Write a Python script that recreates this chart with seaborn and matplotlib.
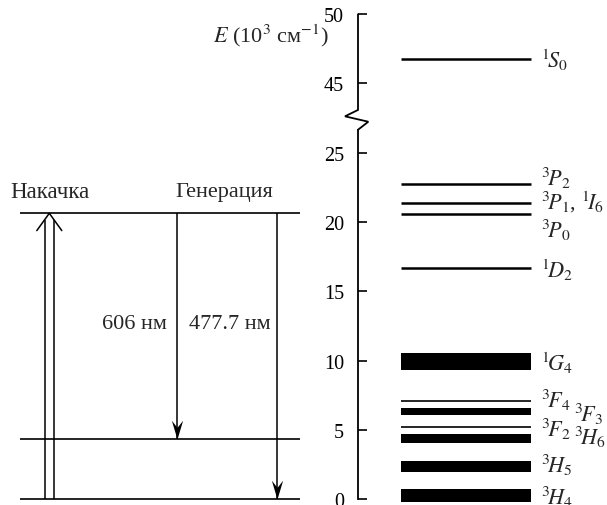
import numpy as np
import matplotlib
matplotlib.use("Agg")
import matplotlib.pyplot as plt
from matplotlib.path import Path
import seaborn as sns

# energy levels, 10^3 cm^-1
line_E = [46.8, 22.72, 21.35, 20.58, 16.7]
thin_E = [7.05, 5.18]
band_lo = [9.34, 6.06, 4.04, 1.97, -0.22]
band_hi = [10.54, 6.6, 4.71, 2.74, 0.72]

# level labels and where they sit
level_labels = [r"$^1\!S_0$", r"$^3\!P_2$", r"$^3\!P_1$, $^1\!I_6$", r"$^3\!P_0$", r"$^1\!D_2$",
                r"$^1\!G_4$", r"$^3\!F_4$", r"$^3\!F_3$", r"$^3\!F_2$", r"$^3\!H_6$",
                r"$^3\!H_5$", r"$^3\!H_4$"]
label_E = [46.77, 23.25, 21.5, 19.49, 16.61, 9.89, 7.22, 6.15, 5.13, 4.5, 2.53, 0.22]
label_col = [0, 0, 0, 0, 0, 0, 0, 1, 0, 1, 0, 0]

# laser scheme (left part)
upper_E = 20.63
lower_E = 4.33
ground_E = 0.0
gen_x = [176.7, 276.7]
gen_end = [lower_E, ground_E]
y_ticks = [0, 5, 10, 15, 20, 25, 45, 50]

# broken energy axis: 27.4..42.4 squeezed out
def fwd(e):
    return np.interp(e, [-1000, 27.4, 42.4, 1000], [-1000, 27.4, 27.4001, 985.0001])

def inv(p):
    return np.interp(p, [-1000, 27.4, 27.4001, 985.0001], [-1000, 27.4, 42.4, 1000])

sns.set_style("white")
plt.rcParams["font.family"] = ["Liberation Serif", "DejaVu Serif"]
plt.rcParams["mathtext.fontset"] = "stix"

fig = plt.figure(figsize=(6.07, 5.06), dpi=100)
ax = fig.add_axes([0, 0, 1, 1])
ax.set_yscale("function", functions=(fwd, inv))
ax.set_xlim(0, 607)
ax.set_ylim(-0.43, 51.1)

axis_x = 358
for s in ["top", "right", "bottom"]:
    ax.spines[s].set_visible(False)
ax.spines["left"].set_position(("data", axis_x))
ax.spines["left"].set_bounds(0, 26.66)
ax.spines["left"].set_linewidth(1.3)
ax.spines["left"].set_color("black")
ax.set_xticks([])
ax.set_yticks(y_ticks)
ax.set_yticklabels([str(t) for t in y_ticks])
ax.yaxis.set_minor_locator(matplotlib.ticker.NullLocator())
ax.tick_params(axis="y", direction="in", length=6.5, width=1.2, pad=10,
               labelsize=14.5, colors="black", left=True)

# upper part of the axis with the break mark
ax.plot([axis_x, axis_x, axis_x - 13, axis_x + 10.3, axis_x],
        [50, 43.09, 42.63, 27.24, 26.66], color="black", lw=1.3,
        solid_joinstyle="miter")

ax.text(329, 48.5, r"$E$ (10$^3$ см$^{-1}$)", ha="right", va="center", fontsize=16)

# levels
lx0, lx1 = 401, 531
ax.hlines(line_E, lx0, lx1, color="black", lw=1.8)
ax.hlines(thin_E, lx0, lx1, color="black", lw=1.2)
ax.bar([(lx0 + lx1) / 2] * len(band_lo), np.array(band_hi) - np.array(band_lo),
       bottom=band_lo, width=lx1 - lx0, color="black", linewidth=0)

for lab, e, c in zip(level_labels, label_E, label_col):
    ax.text(541 + 33 * c, e, lab, ha="left", va="center", fontsize=16)

# laser scheme
ax.hlines([upper_E, lower_E, ground_E], 20, 300, color="black", lw=1.2)

px = 49.3
ax.vlines([px - 4.2, px + 4.2], ground_E, upper_E - 0.45, color="black", lw=1.1)
ax.plot([px - 12.5, px, px + 12.5], [upper_E - 1.25, upper_E, upper_E - 1.25],
        color="black", lw=1.1)

# barbed arrowhead, tip at the origin
head = Path([(0, 0), (-0.3, 1), (0, 0.62), (0.3, 1), (0, 0)],
            [Path.MOVETO, Path.LINETO, Path.LINETO, Path.LINETO, Path.CLOSEPOLY])
ax.vlines(gen_x, gen_end, upper_E, color="black", lw=1.1)
ax.plot(gen_x, gen_end, linestyle="none", marker=head, markersize=27,
        color="black", markeredgewidth=0)

ax.text(10, 22.17, "Накачка", ha="left", va="center", fontsize=16.5)
ax.text(224, 22.17, "Генерация", ha="center", va="center", fontsize=16)
ax.text(167, 12.64, "606 нм", ha="right", va="center", fontsize=16)
ax.text(189, 12.64, "477.7 нм", ha="left", va="center", fontsize=16)

fig.savefig("out.png", dpi=100)
